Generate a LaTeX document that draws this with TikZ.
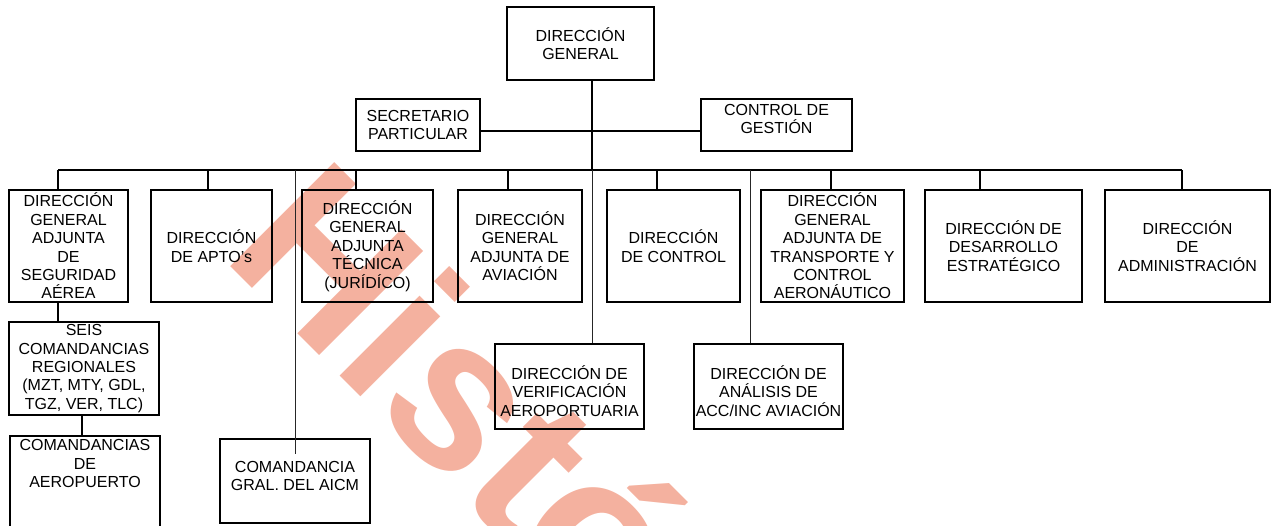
\documentclass[tikz,border=0pt]{standalone}
\usepackage{fontspec}
\setmainfont{Liberation Sans}
\definecolor{wmcol}{RGB}{244,177,159}
\begin{document}
\begin{tikzpicture}[x=1pt,y=-1pt,
  every node/.style={font=\fontsize{16}{18.4}\selectfont, align=center, inner sep=0pt, text=black},
  box/.style={draw, line width=2pt},
  tbox/.style={draw, line width=1.2pt},
  thk/.style={line width=2pt},
  thn/.style={line width=1pt, black!85},
  wm/.style={text=wmcol, font=\fontsize{214}{214}\selectfont\bfseries, inner sep=0pt}
]
\useasboundingbox (0,0) rectangle (1272,525);
\clip (0,0) rectangle (1272,525);

% watermark
\node[wm, anchor=base west, rotate=-45] (wmk) at (220,256) {Histó};

% top level
\node[box, minimum width=147pt, minimum height=73pt] (DG) at (580.5,43.5) {DIRECCIÓN\\GENERAL};
\node[box, minimum width=124pt, minimum height=52pt] (SEC) at (418,125) {SECRETARIO\\PARTICULAR};
\node[box, minimum width=151pt, minimum height=52pt,
  label={[align=center, yshift=6pt]center:{CONTROL DE\\GESTIÓN}}] (CG) at (776.5,125) {};

% row 1
\node[box, minimum width=119pt, minimum height=112pt] (B1) at (68.5,246) {DIRECCIÓN\\GENERAL\\ADJUNTA\\DE\\SEGURIDAD\\AÉREA};
\node[box, minimum width=121pt, minimum height=112pt] (B2) at (211.5,246) {DIRECCIÓN\\DE APTO’s};
\node[box, minimum width=131pt, minimum height=112pt] (B3) at (367.5,246) {DIRECCIÓN\\GENERAL\\ADJUNTA\\TÉCNICA\\(JURÍDÍCO)};
\node[box, minimum width=124pt, minimum height=112pt] (B4) at (520,246) {DIRECCIÓN\\GENERAL\\ADJUNTA DE\\AVIACIÓN};
\node[box, minimum width=133pt, minimum height=112pt] (B5) at (673.5,246) {DIRECCIÓN\\DE CONTROL};
\node[box, minimum width=143pt, minimum height=112pt] (B6) at (832.5,246) {DIRECCIÓN\\GENERAL\\ADJUNTA DE\\TRANSPORTE Y\\CONTROL\\AERONÁUTICO};
\node[box, minimum width=157pt, minimum height=112pt] (B7) at (1003.5,246) {DIRECCIÓN DE\\DESARROLLO\\ESTRATÉGICO};
\node[box, minimum width=165pt, minimum height=112pt] (B8) at (1187.5,246) {DIRECCIÓN\\DE\\ADMINISTRACIÓN};

% row 2
\node[box, minimum width=150pt, minimum height=93pt] (SEIS) at (84,368.5) {SEIS\\COMANDANCIAS\\REGIONALES\\(MZT, MTY, GDL,\\TGZ, VER, TLC)};
\node[box, minimum width=150pt, minimum height=130pt, anchor=north west] (CA) at (9,435) {};
\node[anchor=north] (CAt) at ([yshift=-4.5pt]CA.north) {COMANDANCIAS\\DE\\AEROPUERTO};
\node[tbox, minimum width=150pt, minimum height=84pt,
  label={[align=center, yshift=5pt]center:{COMANDANCIA\\GRAL. DEL AICM}}] (AICM) at (295,481) {};
\node[tbox, minimum width=149pt, minimum height=85pt,
  label={[align=center, yshift=-4.5pt]center:{DIRECCIÓN DE\\VERIFICACIÓN\\AEROPORTUARIA}}] (VER) at (569.5,386.5) {};
\node[tbox, minimum width=149pt, minimum height=85pt,
  label={[align=center, yshift=-4.5pt]center:{DIRECCIÓN DE\\ANÁLISIS DE\\ACC/INC AVIACIÓN}}] (ANA) at (768.5,386.5) {};

% connectors
\coordinate (tr) at (592,170);
\coordinate (sl) at (592,131);
\coordinate (x1) at (58,170);
\coordinate (x2) at (208,170);
\coordinate (x3) at (356,170);
\coordinate (x4) at (508,170);
\coordinate (x5) at (657,170);
\coordinate (x6) at (831,170);
\coordinate (x7) at (980,170);
\coordinate (x8) at (1182,170);
\coordinate (xa) at (295,170);
\coordinate (xb) at (750,170);
\coordinate (xc) at (82,415);

\draw[thk] (tr |- DG.south) -- (tr);
\draw[thk] (SEC.east |- sl) -- (CG.west |- sl);
\draw[thk] (x1) -- (x8);
\foreach \i/\b in {1/B1,2/B2,3/B3,4/B4,5/B5,6/B6,7/B7,8/B8}
  \draw[thk] (x\i) -- (x\i |- \b.north);
\draw[thn] (tr) -- (tr |- VER.north);
\draw[thn] (xa) -- ([yshift=-16pt]AICM.north);
\draw[thn] (xb) -- (xb |- ANA.north);
\draw[thk] (x1 |- B1.south) -- (x1 |- SEIS.north);
\draw[thk] (xc |- SEIS.south) -- (xc |- CA.north);
\end{tikzpicture}
\end{document}
